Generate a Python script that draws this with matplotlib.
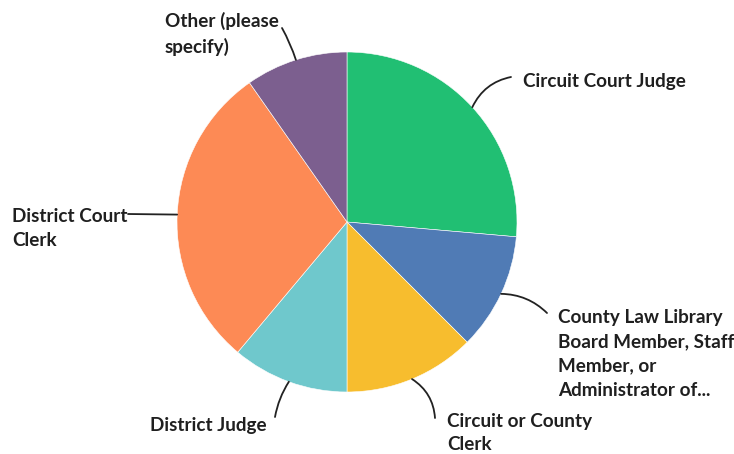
import numpy as np
import matplotlib
matplotlib.use("Agg")
import matplotlib.pyplot as plt

# Survey responses by role
labels = [
    "Circuit Court Judge",
    "County Law Library\nBoard Member, Staff\nMember, or\nAdministrator of...",
    "Circuit or County\nClerk",
    "District Judge",
    "District Court\nClerk",
    "Other (please\nspecify)",
]
counts = [19, 8, 9, 8, 21, 7]
colors = ["#21BF73", "#507BB5", "#F7BD2E", "#6FC8CC", "#FD8A55", "#7C5F8F"]

W, H = 734, 454
fig = plt.figure(figsize=(W / 100, H / 100), dpi=100)
ax = fig.add_axes([0, 0, 1, 1])

cx, cy, R = 347, H - 222, 170
wedges, _ = ax.pie(counts, colors=colors, startangle=90, counterclock=False,
                   center=(cx, cy), radius=R,
                   wedgeprops=dict(edgecolor="white", linewidth=0.4))
ax.set_xlim(0, W)
ax.set_ylim(0, H)
ax.set_aspect("equal")
ax.axis("off")

# label block placement: (left x, block center y, leader end x, leader end y, curvature)
layout = [
    (523, 82, 511, 77, -0.25),
    (558, 354, 547, 313, -0.2),
    (447, 433, 435, 418, -0.25),
    (150, 425, 275, 417, 0.1),
    (12, 228, 128, 214, 0.0),
    (165, 34, 282, 28, 0.05),
]

font = dict(family=["Lato", "DejaVu Sans"], weight="bold", size=13.6, color="#1f1f1f")

for w, lab, (tx, ty, ex, ey, rad) in zip(wedges, labels, layout):
    mid = np.deg2rad((w.theta1 + w.theta2) / 2)
    px, py = cx + R * np.cos(mid), cy + R * np.sin(mid)
    ax.annotate("", xy=(ex, H - ey), xytext=(px, py),
                arrowprops=dict(arrowstyle="-", color="#222222", lw=1.3,
                                shrinkA=0, shrinkB=0,
                                connectionstyle=f"arc3,rad={rad}"))
    ax.text(tx, H - ty, lab, ha="left", va="center", linespacing=1.5, **font)

fig.savefig("out.png", dpi=100)
